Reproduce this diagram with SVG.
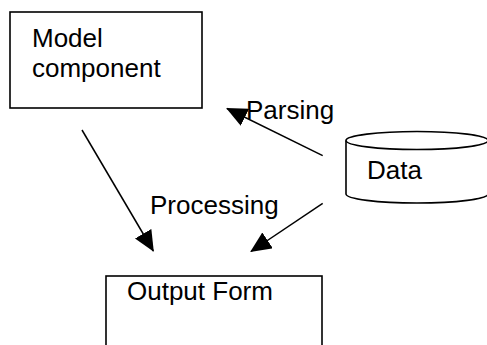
<svg xmlns="http://www.w3.org/2000/svg" width="487" height="345" viewBox="0 0 487 345">
<style>
.box{fill:#fff;stroke:#000;stroke-width:1.6}
.t{font-family:"Liberation Sans",Arial,sans-serif;font-size:26px;fill:#000}
.c{stroke:#000;stroke-width:1.5;fill:none}
</style>
<defs>
<marker id="ah" markerUnits="userSpaceOnUse" markerWidth="21" markerHeight="19" viewBox="0 0 21 19" refX="20" refY="9.5" orient="auto">
<path d="M0,0 L21,9.5 L0,19 z" fill="#000"/>
</marker>
</defs>
<rect width="487" height="345" fill="#fff"/>
<g id="model">
<rect class="box" x="10" y="12" width="192" height="96"/>
<text class="t" x="32" y="47">Model</text>
<text class="t" x="32" y="77">component</text>
</g>
<g id="data">
<path class="box" d="M346,140.5 L346,194 A71,9 0 0 0 488,194 L488,140.5"/>
<ellipse class="box" cx="417" cy="140.5" rx="71" ry="9"/>
<text class="t" x="367" y="179">Data</text>
</g>
<g id="output">
<rect class="box" x="106" y="276" width="216" height="90"/>
<text class="t" x="127" y="300">Output Form</text>
</g>
<g id="connectors">
<line class="c" x1="82" y1="130" x2="153.3" y2="251" marker-end="url(#ah)"/>
<line class="c" x1="322.7" y1="155.7" x2="227" y2="108.5" marker-end="url(#ah)"/>
<line class="c" x1="322.7" y1="203.3" x2="251" y2="251.5" marker-end="url(#ah)"/>
<text class="t" x="246" y="119">Parsing</text>
<text class="t" x="150" y="214">Processing</text>
</g>
</svg>
